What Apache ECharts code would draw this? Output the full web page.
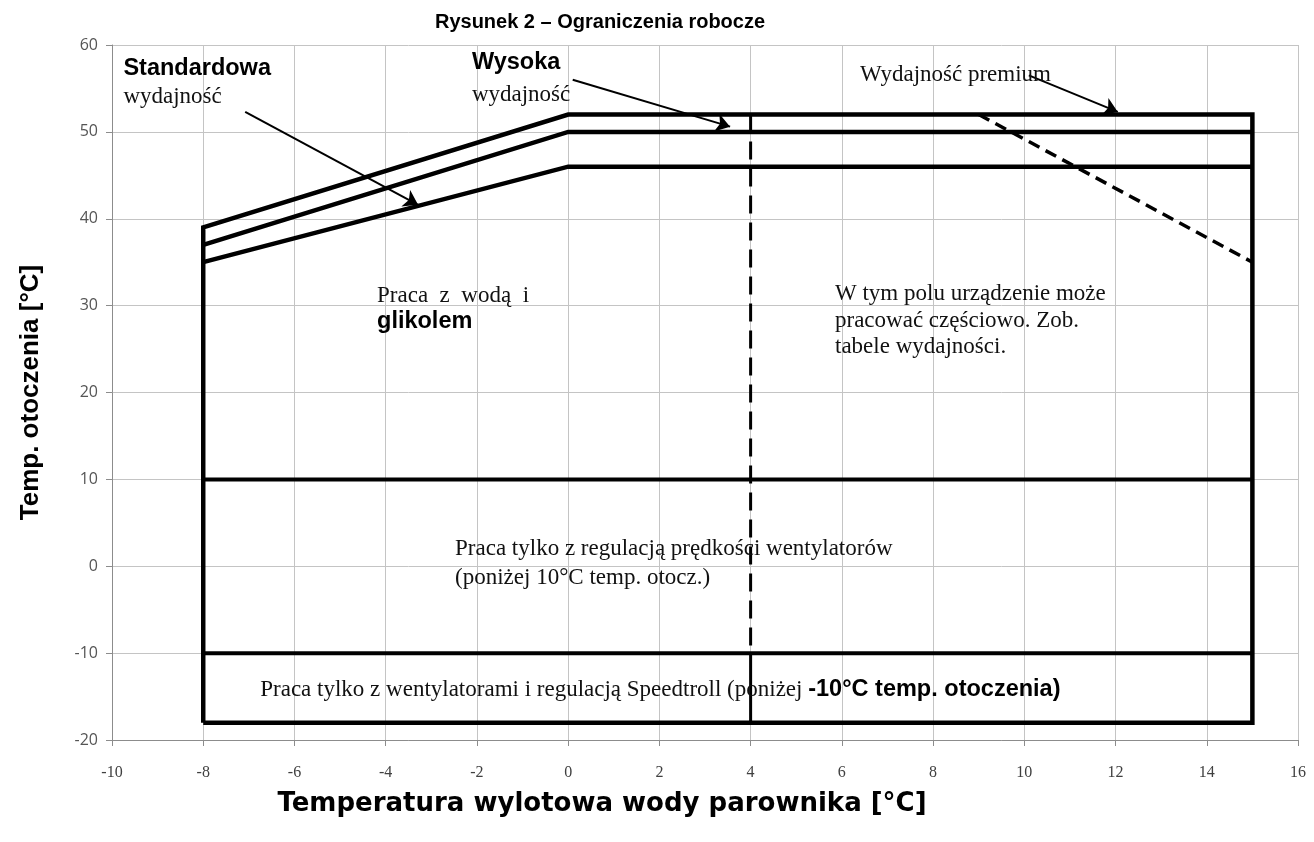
<!DOCTYPE html>
<html>
<head>
<meta charset="utf-8">
<title>Rysunek 2 - Ograniczenia robocze</title>
<script src="https://cdn.jsdelivr.net/npm/echarts@6/dist/echarts.min.js"></script>
<style>
  html, body { margin: 0; padding: 0; background: #fff; }
  #main { width: 1314px; height: 842px; }
</style>
</head>
<body>
<div id="main"></div>
<script>
var chartDom = document.getElementById('main');
var myChart = echarts.init(chartDom);
var option;

// envelope lines (x = water outlet temp, y = ambient temp)
var outlineX = [-8, -8, 0, 15, 15, -8];
var outlineY = [-18, 39, 52, 52, -18, -18];
var midX = [-8, 0, 15];
var midY = [37, 50, 50];
var lowX = [-8, 0, 15];
var lowY = [35, 46, 46];
var limit10X = [-8, 15];
var limit10Y = [10, 10];
var limitM10X = [-8, 15];
var limitM10Y = [-10, -10];
var splitDashX = [4, 4];
var splitDashY = [52, -10];
var splitSolidX = [4, 4];
var splitSolidY = [-10, -18];
var premiumX = [9, 15];
var premiumY = [52, 35];

// arrows [x1, y1, x2, y2]
var arrowStd = [-7.08, 52.3, -3.29, 41.6];
var arrowHigh = [0.1, 56.0, 3.55, 50.6];
var arrowPrem = [10.1, 56.5, 12.05, 52.3];

// annotation texts and their anchors (left edge, middle)
var noteTexts = [
    '{b|Standardowa}',
    '{s|wydajność}',
    '{b|Wysoka}',
    '{s|wydajność}',
    '{s|Wydajność premium}',
    '{s|Praca  z  wodą  i}',
    '{b|glikolem}',
    '{s|W tym polu urządzenie może}',
    '{s|pracować częściowo. Zob.}',
    '{s|tabele wydajności.}',
    '{s|Praca tylko z regulacją prędkości wentylatorów}',
    '{s|(poniżej 10°C temp. otocz.)}',
    '{s|Praca tylko z wentylatorami i regulacją Speedtroll (poniżej }{b|-10°C temp. otoczenia)}'
];
var noteX = [-9.75, -9.75, -2.11, -2.11, 6.4, -4.19, -4.19, 5.85, 5.85, 5.85, -2.48, -2.48, -6.75];
var noteY = [57.3, 54.0, 58.0, 54.2, 56.6, 31.1, 28.2, 31.3, 28.2, 25.3, 2.0, -1.3, -14.2];

var xMin = -10, xMax = 16, xStep = 2;
var yMin = -20, yMax = 60, yStep = 10;

function pairs(xs, ys) {
    var out = [];
    for (var i = 0; i < xs.length; i++) out.push([xs[i], ys[i]]);
    return out;
}

function lineSeries(xs, ys, width, type) {
    return {
        type: 'line',
        data: pairs(xs, ys),
        symbol: 'none',
        silent: true,
        z: 3,
        lineStyle: { color: '#000', width: width, type: type || 'solid', cap: 'butt', join: 'miter' }
    };
}

function arrow(a) {
    return { coords: [[a[0], a[1]], [a[2], a[3]]] };
}

var notes = [];
for (var i = 0; i < noteTexts.length; i++) {
    notes.push({ value: [noteX[i], noteY[i]], label: { formatter: noteTexts[i] } });
}

var serif = "'Liberation Serif', 'Times New Roman', serif";
var sans = "'Liberation Sans', Arial, sans-serif";

option = {
    backgroundColor: '#fff',
    animation: false,
    title: [{
        text: 'Rysunek 2 – Ograniczenia robocze',
        left: 595,
        top: 7,
        textAlign: 'center',
        textStyle: { fontFamily: sans, fontWeight: 'bold', fontSize: 20, color: '#000' }
    }, {
        text: 'Temperatura wylotowa wody parownika [°C]',
        left: 597,
        top: 786,
        textAlign: 'center',
        textStyle: { fontFamily: "'DejaVu Sans', sans-serif", fontWeight: 'bold', fontSize: 26, color: '#000' }
    }],
    grid: { left: 112, right: 16, top: 45, bottom: 102 },
    xAxis: {
        type: 'value',
        min: xMin,
        max: xMax,
        interval: xStep,
        axisLine: { onZero: false, lineStyle: { color: '#8c8c8c', width: 1 } },
        axisTick: { show: true, length: 6, lineStyle: { color: '#8c8c8c' } },
        axisLabel: { margin: 25, fontFamily: serif, fontSize: 16, color: '#404040' },
        splitLine: { show: true, lineStyle: { color: '#c4c4c4', width: 1 } }
    },
    yAxis: {
        type: 'value',
        min: yMin,
        max: yMax,
        interval: yStep,
        name: 'Temp. otoczenia [°C]',
        nameLocation: 'middle',
        nameRotate: 90,
        nameGap: 68,
        nameTextStyle: { fontFamily: sans, fontWeight: 'bold', fontSize: 26, color: '#000' },
        axisLine: { show: true, onZero: false, lineStyle: { color: '#8c8c8c', width: 1 } },
        axisTick: { show: true, length: 6, lineStyle: { color: '#8c8c8c' } },
        axisLabel: { margin: 14, fontFamily: "'Open Sans', sans-serif", fontSize: 16, color: '#555' },
        splitLine: { show: true, lineStyle: { color: '#c4c4c4', width: 1 } }
    },
    series: [
        lineSeries(outlineX, outlineY, 4.5),
        lineSeries(midX, midY, 4.5),
        lineSeries(lowX, lowY, 4.5),
        lineSeries(limit10X, limit10Y, 4),
        lineSeries(limitM10X, limitM10Y, 4),
        lineSeries(splitDashX, splitDashY, 3, [18, 9]),
        lineSeries(splitSolidX, splitSolidY, 3),
        lineSeries(premiumX, premiumY, 3.5, [12, 7]),
        {
            type: 'lines',
            coordinateSystem: 'cartesian2d',
            silent: true,
            z: 4,
            symbol: ['none', 'arrow'],
            symbolSize: [0, 14],
            lineStyle: { color: '#000', width: 2, opacity: 1, curveness: 0 },
            data: [arrow(arrowStd), arrow(arrowHigh), arrow(arrowPrem)]
        },
        {
            type: 'scatter',
            symbolSize: 0,
            silent: true,
            z: 5,
            itemStyle: { opacity: 1 },
            data: notes,
            label: {
                show: true,
                position: 'right',
                distance: 0,
                opacity: 1,
                rich: {
                    s: { fontFamily: serif, fontSize: 23, color: '#111' },
                    b: { fontFamily: sans, fontWeight: 'bold', fontSize: 23.5, color: '#000' }
                }
            }
        }
    ]
};

option && myChart.setOption(option);
</script>
</body>
</html>
